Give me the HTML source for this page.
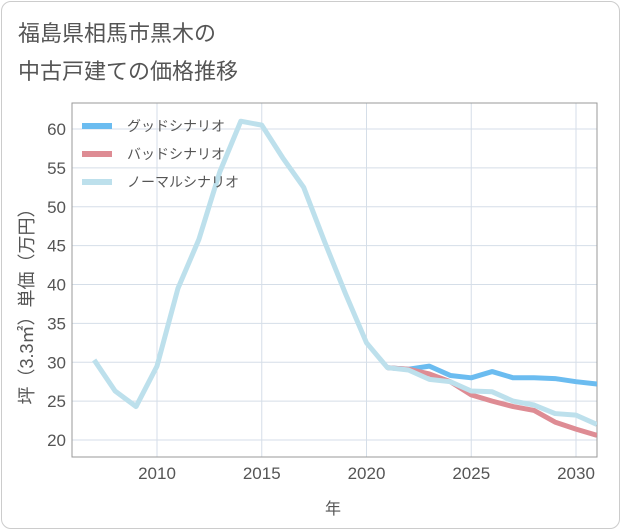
<!DOCTYPE html>
<html><head><meta charset="utf-8"><style>
body{margin:0;background:#fff;font-family:"Liberation Sans","Noto Sans CJK JP",sans-serif;}
#card{position:absolute;left:1px;top:1px;width:617px;height:526px;border:1px solid #ccc;border-radius:10px;background:#fff;}
.t{position:absolute;left:18px;font-size:22px;color:#555;}
</style></head><body>
<div id="card"></div>
<div class="t" style="top:16px">福島県相馬市黒木の</div>
<div class="t" style="top:54px">中古戸建ての価格推移</div>
<svg id="c" width="621" height="530" style="position:absolute;left:0;top:0"></svg>
<script>
const years=[2007,2008,2009,2010,2011,2012,2013,2014,2015,2016,2017,2018,2019,2020,2021,2022,2023,2024,2025,2026,2027,2028,2029,2030,2031];
const normal=[30.3,26.3,24.3,29.5,39.5,45.8,54.5,61,60.5,56.3,52.5,45.5,38.8,32.5,29.3,29.0,27.8,27.5,26.3,26.2,25.0,24.5,23.4,23.2,22.0];
const goodYears=[2021,2022,2023,2024,2025,2026,2027,2028,2029,2030,2031];
const good=[29.3,29.1,29.5,28.3,28.0,28.8,28.0,28.0,27.9,27.5,27.2];
const bad=[29.3,29.1,28.5,27.5,25.8,25.0,24.3,23.8,22.3,21.4,20.6];
const xTicks=[2010,2015,2020,2025,2030];
const yTicks=[20,25,30,35,40,45,50,55,60];
const L=72,R=597,T=103,B=457;
const x=v=>157+(v-2010)*20.95;
const y=v=>440-(v-20)*7.775;
const s=document.getElementById('c');
const NS='http://www.w3.org/2000/svg';
function mk(tag,a,p){const e=document.createElementNS(NS,tag);for(const k in a)e.setAttribute(k,a[k]);(p||s).appendChild(e);return e;}
for(const t of xTicks){const g=mk('line',{x1:x(t),x2:x(t),y1:T,y2:B,stroke:'#d5dee8'});


const l=mk('text',{x:x(t),y:479,'text-anchor':'middle','font-size':17,fill:'#555'});l.textContent=t;

}
for(const t of yTicks){const g=mk('line',{x1:L,x2:R,y1:y(t),y2:y(t),stroke:'#d5dee8'});


const l=mk('text',{x:66,y:y(t)+6,'text-anchor':'end','font-size':17,fill:'#555'});l.textContent=t;

}
const fr=mk('rect',{x:L,y:T,width:R-L,height:B-T,fill:'none',stroke:'#999'});


const cp=mk('clipPath',{id:'cp'});mk('rect',{x:L,y:T,width:R-L,height:B-T},cp);
function line(xs,ys,col,name){const p=mk('polyline',{points:xs.map((v,i)=>x(v)+','+y(ys[i])).join(' '),fill:'none',stroke:col,'stroke-width':5,'stroke-linejoin':'round','clip-path':'url(#cp)'});

}
line(goodYears,good,'#6bbcf0','good-scenario-line');
line(goodYears,bad,'#de8c94','bad-scenario-line');
line(years,normal,'#bde0ec','normal-scenario-line');
const leg=[['グッドシナリオ','#6bbcf0'],['バッドシナリオ','#de8c94'],['ノーマルシナリオ','#bde0ec']];
leg.forEach((e,i)=>{const yy=126+i*28;
const r=mk('line',{x1:82,x2:112,y1:yy,y2:yy,stroke:e[1],'stroke-width':6});


const t=mk('text',{x:127,y:yy+5,'font-size':14,fill:'#555'});t.textContent=e[0];

});
const xt=mk('text',{x:333,y:514,'text-anchor':'middle','font-size':16,fill:'#555'});xt.textContent='年';


const yt=mk('text',{x:0,y:0,'text-anchor':'middle','font-size':18,fill:'#555',transform:'translate(33,302) rotate(-90)'});yt.textContent='坪（3.3㎡）単価（万円）';


</script>
</body></html>
